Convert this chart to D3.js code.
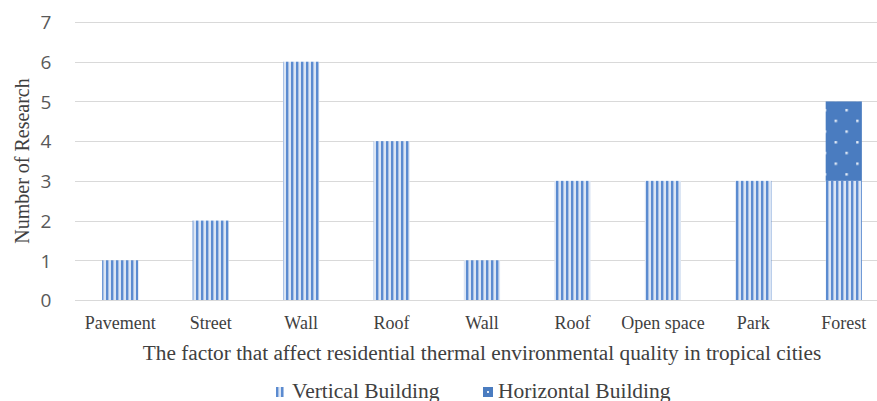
<!DOCTYPE html>
<html><head><meta charset="utf-8">
<script src="https://cdn.jsdelivr.net/npm/d3@7"></script>
<style>html,body{margin:0;padding:0;background:#fff;}svg{display:block;}</style>
</head><body>
<svg id="c" width="877" height="401"></svg>
<script>
const categories = ["Pavement","Street","Wall","Roof","Wall","Roof","Open space","Park","Forest"];
const vertical = [1,2,6,4,1,3,3,3,3];
const horizontal = [0,0,0,0,0,0,0,0,2];
const yTicks = [0,1,2,3,4,5,6,7];
const seriesNames = ["Vertical Building","Horizontal Building"];

const svg = d3.select("#c");
const m = {l:75, r:-12, t:22, b:101};
const W = 877, H = 401;
const x = d3.scaleBand().domain(d3.range(categories.length)).range([m.l, W - m.r]).paddingInner(0.6).paddingOuter(0.3);
const y = d3.scaleLinear().domain([0,7]).range([H - m.b, m.t]);

const defs = svg.append("defs");
const pv = defs.append("pattern").attr("id","pv").attr("patternUnits","userSpaceOnUse").attr("width",5).attr("height",5);
pv.append("rect").attr("width",5).attr("height",5).attr("fill","#dbe5f4");
pv.append("rect").attr("x",1).attr("width",2.4).attr("height",5).attr("fill","#5b8bd0");
const ph = defs.append("pattern").attr("id","ph").attr("patternUnits","userSpaceOnUse").attr("width",21.6).attr("height",21.4);
ph.append("rect").attr("width",21.6).attr("height",21.4).attr("fill","#4a7cc0");
ph.append("rect").attr("x",3).attr("y",2).attr("width",2.4).attr("height",2.4).attr("fill","#e4ecf7");
ph.append("rect").attr("x",13.8).attr("y",12.7).attr("width",2.4).attr("height",2.4).attr("fill","#e4ecf7");

// gridlines
svg.append("g").selectAll("line").data(yTicks).join("line")
  .attr("x1", m.l).attr("x2", W - m.r)
  .attr("y1", d => Math.round(y(d)) + 0.5).attr("y2", d => Math.round(y(d)) + 0.5)
  .attr("stroke", "#d9d9d9").attr("stroke-width", 1.2);

// y axis labels
const ya = svg.append("g").attr("transform", `translate(46,0)`)
  .call(d3.axisLeft(y).tickValues(yTicks).tickSize(0).tickPadding(0).tickFormat(d3.format("d")));
ya.select(".domain").remove();
ya.selectAll("text").attr("font-family","'Open Sans', 'Liberation Sans', sans-serif").attr("font-size","19px").attr("fill","#595959").attr("text-anchor","middle").attr("dy","0.36em");

// bars
svg.append("g").selectAll("rect").data(vertical).join("rect")
  .attr("x", (d,i) => x(i)).attr("width", x.bandwidth())
  .attr("y", d => y(d)).attr("height", d => y(0) - y(d))
  .attr("fill", "url(#pv)");
svg.append("g").selectAll("rect").data(horizontal).join("rect")
  .attr("x", (d,i) => x(i)).attr("width", x.bandwidth())
  .attr("y", (d,i) => y(vertical[i] + d)).attr("height", (d,i) => y(vertical[i]) - y(vertical[i] + d))
  .attr("fill", "url(#ph)");

// x axis labels
const xa = svg.append("g").attr("transform", `translate(0,${y(0)})`)
  .call(d3.axisBottom(x).tickSize(0).tickPadding(16).tickFormat(i => categories[i]));
xa.select(".domain").remove();
xa.selectAll("text").attr("font-family","'Liberation Serif', 'Times New Roman', serif").attr("font-size","18px").attr("fill","#404040");

// titles
svg.append("text").attr("x", 482).attr("y", 360).attr("text-anchor","middle")
  .attr("font-family","'Liberation Serif', serif").attr("font-size","21.3px").attr("fill","#404040")
  .text("The factor that affect residential thermal environmental quality in tropical cities");
svg.append("text").attr("transform", `translate(29,${(y(0)+y(7))/2}) rotate(-90)`).attr("text-anchor","middle")
  .attr("font-family","'Liberation Serif', serif").attr("font-size","20px").attr("fill","#404040")
  .text("Number of Research");

// legend
const lg = svg.append("g");
const items = [{name:seriesNames[0], fill:"url(#pv)", sx:276, sw:8, tx:292},{name:seriesNames[1], fill:"#4a7cc0", sx:483, sw:10, tx:498}];
items.forEach(it => {
  lg.append("rect").attr("x", it.sx).attr("y", 387).attr("width", it.sw).attr("height", 10).attr("fill", it.fill);
  lg.append("text").attr("x", it.tx).attr("y", 397.5).attr("font-family","'Liberation Serif', serif").attr("font-size","21.5px").attr("fill","#404040").text(it.name);
});
lg.append("rect").attr("x", 487).attr("y", 391).attr("width", 2).attr("height", 2).attr("fill", "#e4ecf7");
</script>
</body></html>
